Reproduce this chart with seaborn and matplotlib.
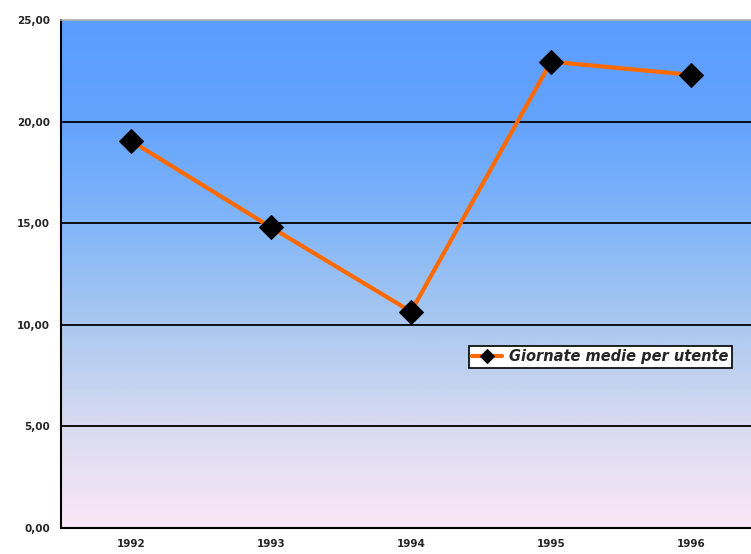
import numpy as np
import pandas as pd
import matplotlib
matplotlib.use("Agg")
import matplotlib.pyplot as plt
from matplotlib.colors import LinearSegmentedColormap
from matplotlib.ticker import FuncFormatter
import seaborn as sns

years = ["1992", "1993", "1994", "1995", "1996"]
giornate = [19.05, 14.80, 10.65, 22.95, 22.30]
serie = "Giornate medie per utente"

df = pd.DataFrame({"anno": years, "valore": giornate})

sns.set_style("white")
plt.rcParams["font.family"] = ["DejaVu Sans"]

fig = plt.figure(figsize=(7.51, 5.54), dpi=100)
ax = fig.add_axes([61 / 751, 26 / 554, 700 / 751, 508 / 554])

# sfondo sfumato blu -> rosa
bg = LinearSegmentedColormap.from_list(
    "bg", [(0.0, "#fbe7f7"), (0.2, "#d8dbf0"), (0.4, "#aac8f0"),
           (0.6, "#82b6f8"), (0.8, "#64a3fd"), (1.0, "#5c9cff")])
grad = np.linspace(0, 1, 256).reshape(-1, 1)
ax.imshow(grad, cmap=bg, origin="lower", aspect="auto", extent=[0, 1, 0, 1],
          transform=ax.transAxes, zorder=0)

for v in [5, 10, 15, 20]:
    ax.axhline(v, color="black", lw=1.3, zorder=1)

sns.lineplot(data=df, x="anno", y="valore", ax=ax, color="#ff6a00", lw=3,
             marker="D", markersize=12, markerfacecolor="black",
             markeredgecolor="black", label=serie, zorder=3)

ax.set_xlim(-0.5, 4.5)
ax.set_ylim(0, 25)
ax.set_yticks([0, 5, 10, 15, 20, 25])
ax.yaxis.set_major_formatter(FuncFormatter(lambda v, p: f"{v:.2f}".replace(".", ",")))
ax.set_xticks(range(len(years)))
ax.set_xticks(np.arange(-0.5, len(years), 1), minor=True)
ax.tick_params(axis="x", which="major", length=0, pad=8, labelsize=7.5)
ax.tick_params(axis="x", which="minor", length=4, width=1.2, direction="out", color="black")
ax.tick_params(axis="y", length=4, width=1.2, direction="out", color="black", labelsize=7.5, pad=4)
for lab in ax.get_xticklabels() + ax.get_yticklabels():
    lab.set_fontweight("bold")
ax.set_xlabel("")
ax.set_ylabel("")

ax.spines["left"].set_color("black")
ax.spines["left"].set_linewidth(1.5)
ax.spines["bottom"].set_color("black")
ax.spines["bottom"].set_linewidth(1.5)
ax.spines["top"].set_color("#b0b0b0")
ax.spines["top"].set_linewidth(1.2)
ax.spines["right"].set_visible(False)

leg = ax.legend(loc="center left", bbox_to_anchor=(0.572, 0.337), frameon=True,
                fancybox=False, edgecolor="black", facecolor="white", framealpha=1,
                prop={"size": 10.5, "style": "italic", "weight": "bold"},
                handlelength=2.0, handletextpad=0.5, borderpad=0.25)
leg.get_frame().set_linewidth(1.2)
for h in leg.legend_handles:
    h.set_markersize(7)

fig.savefig("out.png", dpi=100)
